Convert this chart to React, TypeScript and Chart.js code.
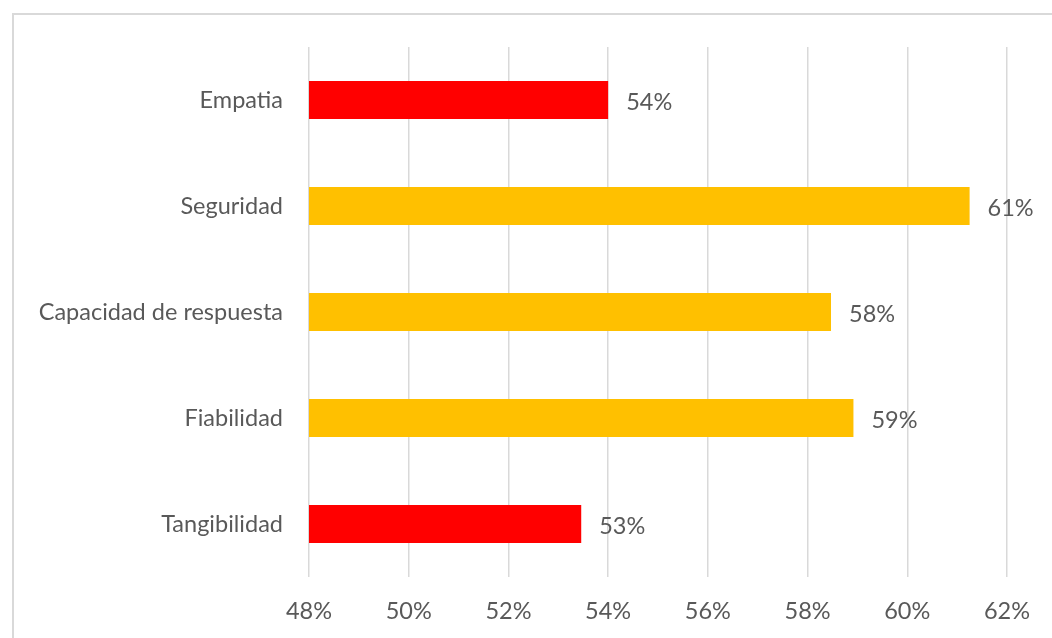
import React, { useEffect, useRef } from "react";
import { Chart, registerables } from "chart.js";

Chart.register(...registerables);

const categories = ["Empatia", "Seguridad", "Capacidad de respuesta", "Fiabilidad", "Tangibilidad"];
const values = [54.0, 61.25, 58.47, 58.92, 53.46];
const barColors = ["#FF0000", "#FFC000", "#FFC000", "#FFC000", "#FF0000"];
const xMin = 48;
const xMax = 62;
const xStep = 2;

const FONT = "Lato, 'Noto Sans', sans-serif";
const TEXT = "#595959";
const FSIZE = 23.5;

const labelPlugin = {
  id: "barLabels",
  afterDatasetsDraw(chart: any) {
    const ctx = chart.ctx;
    const meta = chart.getDatasetMeta(0);
    ctx.save();
    ctx.font = `${FSIZE}px ${FONT}`;
    ctx.fillStyle = TEXT;
    ctx.textAlign = "left";
    ctx.textBaseline = "middle";
    meta.data.forEach((bar: any, i: number) => {
      ctx.fillText(Math.round(values[i]) + "%", bar.x + 18, bar.y + 2);
    });
    ctx.restore();
  },
};

export default function App() {
  const ref = useRef<HTMLCanvasElement>(null);
  useEffect(() => {
    if (!ref.current) return;
    const chart = new Chart(ref.current, {
      type: "bar",
      data: {
        labels: categories,
        datasets: [
          {
            data: values,
            backgroundColor: barColors,
            categoryPercentage: 1,
            barPercentage: 0.36,
          },
        ],
      },
      options: {
        indexAxis: "y",
        animation: false,
        responsive: false,
        maintainAspectRatio: false,
        layout: { padding: { top: 47, right: 45, left: 0, bottom: 0 } },
        plugins: { legend: { display: false }, tooltip: { enabled: false } },
        scales: {
          x: {
            min: xMin,
            max: xMax,
            ticks: {
              stepSize: xStep,
              color: TEXT,
              font: { family: FONT, size: FSIZE },
              padding: 20,
              callback: (v: any) => v + "%",
            },
            grid: { color: "#D9D9D9", lineWidth: 1.5, drawTicks: false },
            border: { display: false },
            afterFit: (s: any) => {
              s.height = 61;
            },
          },
          y: {
            ticks: {
              color: TEXT,
              font: { family: FONT, size: FSIZE },
              padding: 26,
            },
            grid: { display: false, drawTicks: false },
            border: { display: false },
            afterFit: (s: any) => {
              s.width = 309;
            },
          },
        },
      },
      plugins: [labelPlugin],
    });
    return () => chart.destroy();
  }, []);

  return (
    <div style={{ position: "fixed", left: 0, top: 0, width: 1052, height: 638, overflow: "hidden", background: "#fff" }}>
      <div
        style={{
          position: "absolute",
          left: 12,
          top: 13,
          width: 1100,
          height: 700,
          border: "2px solid #D9D9D9",
          boxSizing: "border-box",
        }}
      />
      <canvas ref={ref} width={1052} height={638} style={{ position: "absolute", left: 0, top: 0 }} />
    </div>
  );
}
